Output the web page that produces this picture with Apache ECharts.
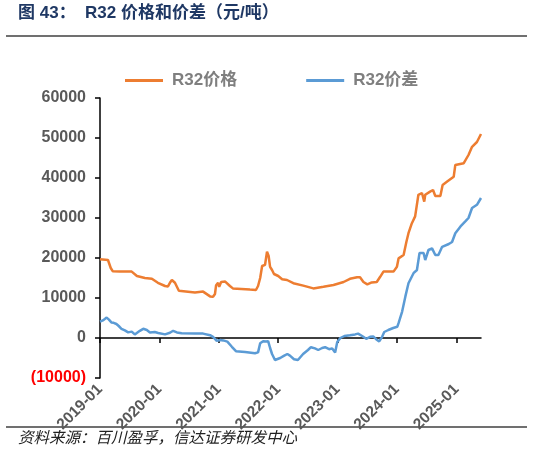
<!DOCTYPE html>
<html>
<head>
<meta charset="utf-8">
<script src="https://cdn.jsdelivr.net/npm/echarts@6/dist/echarts.min.js"></script>
<style>
html,body{margin:0;padding:0;background:#fff;}
#chart{width:534px;height:452px;}
</style>
</head>
<body>
<div id="chart"></div>
<script>
// R32 price (元/吨)
const priceDates = ['2019-01-01','2019-02-19','2019-03-08','2019-03-20','2019-05-02','2019-07-15','2019-08-16','2019-10-04','2019-11-16','2019-12-23',
'2020-02-05','2020-02-23','2020-03-06','2020-03-18','2020-04-06','2020-04-30','2020-05-12','2020-08-07','2020-09-26','2020-11-08','2020-11-26','2020-12-08','2020-12-15','2020-12-27',
'2021-01-03','2021-01-15','2021-02-09','2021-03-10','2021-03-28','2021-07-11','2021-08-17','2021-08-30','2021-09-12','2021-09-24','2021-10-12','2021-10-24','2021-11-03','2021-11-12','2021-11-24','2021-12-06',
'2022-01-01','2022-01-25','2022-02-24','2022-04-04','2022-06-04','2022-08-05','2022-10-06','2022-12-07',
'2023-02-07','2023-03-18','2023-05-01','2023-05-19','2023-06-09','2023-07-03','2023-07-30','2023-08-30','2023-09-20','2023-10-10','2023-12-11',
'2024-01-01','2024-01-11','2024-02-11','2024-02-28','2024-03-12','2024-04-02','2024-04-22','2024-05-12','2024-06-03','2024-06-17','2024-06-23','2024-07-23','2024-08-10','2024-08-24','2024-09-24','2024-10-08','2024-11-05','2024-12-15','2024-12-25',
'2025-02-15','2025-03-16','2025-04-07','2025-05-07','2025-06-01'];
const priceValues = [19700,19500,17500,16700,16600,16600,15500,15000,14800,13800,
13000,12900,13800,14500,13800,11800,11400,11400,11600,10400,10300,11000,13200,13800,
12800,14000,14100,13000,12400,12100,12000,13000,15000,18000,18300,21600,20500,17800,17000,16000,
15500,14700,14500,13700,13100,12400,12800,13250,
14000,14800,15200,15200,14000,13400,13900,14000,15300,16600,16600,
17800,19900,20750,24000,26200,28700,30400,35800,36250,34100,35800,36600,37000,35500,35500,38250,39100,40300,43250,
43700,45750,47800,49000,51000];

// R32 spread (元/吨)
const spreadDates = ['2019-01-01','2019-01-19','2019-02-11','2019-02-25','2019-03-12','2019-03-26','2019-04-12','2019-04-26','2019-05-13','2019-06-03','2019-06-23','2019-07-15','2019-08-03','2019-09-03','2019-09-24','2019-10-16','2019-11-04','2019-12-04','2019-12-25',
'2020-02-05','2020-03-06','2020-03-26','2020-04-18','2020-05-17','2020-08-07','2020-09-26','2020-11-08','2020-11-26','2020-12-19',
'2021-01-09','2021-01-28','2021-02-22','2021-03-22','2021-04-16','2021-06-11','2021-08-11','2021-08-30','2021-09-12','2021-09-30','2021-10-18','2021-10-31','2021-11-12','2021-11-24','2021-12-12',
'2022-01-13','2022-02-07','2022-02-26','2022-03-14','2022-04-08','2022-05-02','2022-06-03','2022-07-03','2022-07-21','2022-08-15','2022-09-04','2022-09-28','2022-10-16','2022-11-10','2022-11-29','2022-12-17','2022-12-30',
'2023-01-18','2023-02-12','2023-03-18','2023-04-19','2023-05-07','2023-06-01','2023-06-26','2023-07-20','2023-08-08','2023-08-26','2023-09-14','2023-10-02','2023-10-15','2023-11-09','2023-12-09',
'2024-01-03','2024-01-11','2024-02-02','2024-02-22','2024-03-12','2024-04-12','2024-05-03','2024-05-19','2024-06-13','2024-06-23','2024-07-13','2024-08-04','2024-08-24','2024-09-12','2024-10-05','2024-11-15','2024-12-05','2024-12-25',
'2025-01-26','2025-02-26','2025-03-16','2025-04-07','2025-05-07','2025-06-01'];
const spreadValues = [4100,4400,5100,4600,3900,3800,3500,3000,2300,1900,1400,1600,900,1800,2300,2000,1400,1500,1250,
900,1300,1800,1400,1200,1100,1100,700,300,-700,
-500,-600,-900,-2200,-3300,-3500,-3800,-3600,-1300,-800,-900,-800,-2500,-4000,-5500,
-5000,-4400,-4000,-4400,-5300,-5500,-4000,-3000,-2300,-2600,-3000,-2500,-2300,-2800,-2600,-3600,-1000,
0,500,700,900,1100,500,-200,300,400,-300,-850,300,1500,2000,2500,
2800,3700,6600,10400,13700,16200,17000,21250,21250,19500,22000,22400,20750,20750,22800,23500,24000,26200,
27900,29200,30000,32500,33300,35000];

const seriesNames = ['R32价格','R32价差'];
const yTicks = [-10000,0,10000,20000,30000,40000,50000,60000];

const chart = echarts.init(document.getElementById('chart'), null, {renderer:'canvas'});
const YEAR = 365.25*24*3600*1000;
const fontLatin = 'Arial, "Liberation Sans", "Noto Sans CJK SC", sans-serif';

chart.setOption({
  animation:false,
  backgroundColor:'#fff',
  grid:{left:100,right:53,top:98,bottom:74,containLabel:false},
  legend:{
    left:125, top:72, padding:0,
    icon:'rect', itemWidth:38, itemHeight:3, itemGap:69,
    textStyle:{color:'#7f7f7f',fontSize:17,fontWeight:'bold',fontFamily:fontLatin,padding:[0,0,0,4]},
    data:seriesNames
  },
  xAxis:{
    type:'time',
    min:'2019-01-01', max:'2025-06-01',
    minInterval:YEAR, maxInterval:YEAR,
    axisLine:{onZero:true,lineStyle:{color:'#000',width:1.5}},
    axisTick:{show:true,length:5,lineStyle:{color:'#000',width:1.5}},
    minorTick:{show:false},
    splitLine:{show:false},
    axisLabel:{
      rotate:45, margin:9, color:'#595959', fontSize:15.5, fontWeight:'bold', fontFamily:fontLatin,
      showMinLabel:true,
      formatter:function(v){ const d=new Date(v); return d.getFullYear()+'-'+String(d.getMonth()+1).padStart(2,'0'); }
    }
  },
  yAxis:{
    type:'value', min:yTicks[0], max:yTicks[yTicks.length-1], interval:10000,
    axisLine:{show:true,lineStyle:{color:'#000',width:1.5}},
    axisTick:{show:true,length:5,lineStyle:{color:'#000',width:1.5}},
    splitLine:{show:false},
    axisLabel:{
      margin:14, fontSize:16, fontWeight:'bold', fontFamily:fontLatin,
      color:function(v){ return Number(v)<0 ? '#ff0000' : '#595959'; },
      formatter:function(v){ return v<0 ? '('+Math.abs(v)+')' : String(v); }
    }
  },
  series:[
    {name:seriesNames[0], type:'line', showSymbol:false, symbol:'none',
     lineStyle:{color:'#ED7D31',width:2.5}, itemStyle:{color:'#ED7D31'},
     data:priceDates.map((d,i)=>[d,priceValues[i]])},
    {name:seriesNames[1], type:'line', showSymbol:false, symbol:'none',
     lineStyle:{color:'#5B9BD5',width:2.5}, itemStyle:{color:'#5B9BD5'},
     data:spreadDates.map((d,i)=>[d,spreadValues[i]])}
  ],
  graphic:[
    {type:'text', left:18, top:5, style:{text:'图 43：  R32 价格和价差（元/吨）', fill:'#1F3864', font:'bold 17px "Liberation Sans", "Noto Sans CJK SC", sans-serif'}},
    {type:'line', shape:{x1:6,y1:36,x2:527,y2:36}, style:{stroke:'#404040',lineWidth:1.5}},
    {type:'line', shape:{x1:6,y1:427,x2:527,y2:427}, style:{stroke:'#404040',lineWidth:1.5}},
    {type:'text', left:18, top:429, style:{text:'资料来源：百川盈孚，信达证券研发中心', fill:'#222', font:'italic 15.5px "Noto Sans CJK SC", sans-serif'}}
  ]
});
</script>
</body>
</html>
